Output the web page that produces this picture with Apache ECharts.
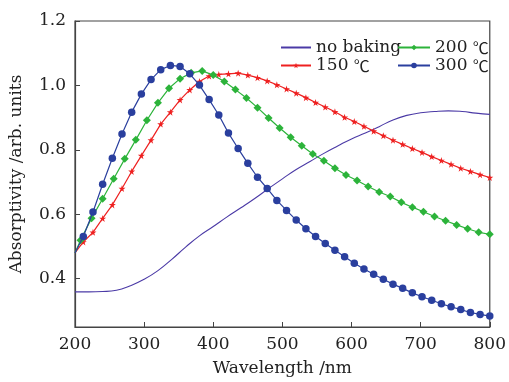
<!DOCTYPE html>
<html>
<head>
<meta charset="utf-8">
<script src="https://cdn.jsdelivr.net/npm/echarts@6/dist/echarts.min.js"></script>
<style>
  html, body { margin: 0; padding: 0; background: #fff; }
  #main { width: 509px; height: 382px; }
</style>
</head>
<body>
<div id="main"></div>
<script>
// wavelength grids (nm)
var baseX = [200, 220, 240, 260, 280, 300, 320, 340, 360, 380, 400, 420, 440, 460, 480, 500,
  520, 540, 560, 580, 600, 620, 640, 660, 680, 700, 720, 740, 760, 780, 800];
var markX14 = [];   // 212..800 step 14 (150 / 300 ℃)
for (var w = 212; w <= 800; w += 14) markX14.push(w);
var markX16 = [];   // 208..800 step 16 (200 ℃)
for (var w2 = 208; w2 <= 800; w2 += 16) markX16.push(w2);

var noBaking = [0.359, 0.359, 0.360, 0.364, 0.378, 0.398, 0.425, 0.460, 0.498, 0.533, 0.562,
  0.592, 0.620, 0.649, 0.680, 0.710, 0.739, 0.764, 0.789, 0.812, 0.834, 0.852, 0.872, 0.893,
  0.907, 0.915, 0.919, 0.921, 0.919, 0.914, 0.910];

var t150 = [0.514, 0.544, 0.587, 0.629, 0.680, 0.733, 0.782, 0.830, 0.880, 0.917, 0.955, 0.986,
  1.012, 1.029, 1.034, 1.036, 1.038, 1.032, 1.024, 1.014, 1.002, 0.989, 0.976, 0.962, 0.947,
  0.933, 0.918, 0.901, 0.888, 0.873, 0.858, 0.844, 0.830, 0.817, 0.804, 0.792, 0.779, 0.767,
  0.755, 0.743, 0.733, 0.723, 0.714];

var t200 = [0.519, 0.588, 0.648, 0.710, 0.772, 0.831, 0.892, 0.946, 0.991, 1.021, 1.039, 1.045,
  1.032, 1.012, 0.987, 0.961, 0.931, 0.899, 0.868, 0.839, 0.813, 0.787, 0.766, 0.743, 0.722,
  0.705, 0.686, 0.669, 0.655, 0.637, 0.622, 0.608, 0.593, 0.580, 0.567, 0.555, 0.544, 0.538];

var t300 = [0.531, 0.607, 0.693, 0.774, 0.849, 0.917, 0.973, 1.018, 1.049, 1.062, 1.059, 1.036,
  1.001, 0.956, 0.908, 0.852, 0.804, 0.758, 0.715, 0.680, 0.643, 0.612, 0.582, 0.555, 0.531,
  0.509, 0.488, 0.468, 0.448, 0.430, 0.414, 0.398, 0.383, 0.370, 0.356, 0.344, 0.333, 0.322,
  0.313, 0.304, 0.295, 0.289, 0.284];

var startY = 0.48; // common starting value at 200 nm
var yTicks = [0.4, 0.6, 0.8, 1.0, 1.2];

var FONT = 'DejaVu Serif';
var starPath = 'path://M50,0 L61,35 L98,35 L68,57 L79,91 L50,70 L21,91 L32,57 L2,35 L39,35 Z';

function pairs(xs, ys) {
  return xs.map(function (x, i) { return [x, ys[i]]; });
}
function withStart(xs, ys) {
  var d = [{ value: [200, startY], symbol: 'none' }];
  return d.concat(pairs(xs, ys));
}

// legend text: serif for numbers, CJK font for the ℃ sign
var legendText = {
  fontFamily: FONT, fontSize: 17, color: '#222',
  rich: {
    c: { fontFamily: 'Noto Sans CJK SC', fontSize: 16, color: '#222' }
  }
};
function legendFmt(name) {
  return name.replace(' ℃', ' {c|℃}');
}

var chart = echarts.init(document.getElementById('main'));
var option = {
  animation: false,
  grid: {
    left: 71, right: 16, top: 21, bottom: 48,
    show: true, borderColor: '#444', borderWidth: 1.2
  },
  legend: [
    {
      orient: 'vertical', left: 275, top: 34, itemWidth: 30, itemHeight: 7, itemGap: 1,
      textStyle: legendText, formatter: legendFmt,
      data: [{ name: 'no baking', itemStyle: { opacity: 0 } }, '150 ℃']
    },
    {
      orient: 'vertical', left: 392, top: 34, itemWidth: 32, itemHeight: 7, itemGap: 1,
      textStyle: legendText, formatter: legendFmt,
      data: ['200 ℃', '300 ℃']
    }
  ],
  xAxis: {
    type: 'value', min: 200, max: 800, interval: 100,
    name: 'Wavelength /nm', nameLocation: 'middle', nameGap: 33,
    nameTextStyle: { fontFamily: FONT, fontSize: 17, color: '#222' },
    axisLine: { lineStyle: { color: '#444', width: 1.2 } },
    axisTick: { inside: true, length: 5, lineStyle: { color: '#444' } },
    axisLabel: { fontFamily: FONT, fontSize: 17, color: '#222', margin: 9 },
    splitLine: { show: false }
  },
  yAxis: {
    type: 'value', min: 0.25, max: 1.2,
    name: 'Absorptivity /arb. units', nameLocation: 'middle', nameGap: 50,
    nameTextStyle: { fontFamily: FONT, fontSize: 17, color: '#222' },
    axisLine: { show: true, lineStyle: { color: '#444', width: 1.2 } },
    axisTick: { show: true, inside: true, length: 5, customValues: yTicks, lineStyle: { color: '#444' } },
    axisLabel: {
      fontFamily: FONT, fontSize: 17, color: '#222', margin: 9, customValues: yTicks,
      formatter: function (v) { return v.toFixed(1); }
    },
    splitLine: { show: false }
  },
  series: [
    {
      name: 'no baking', type: 'line', smooth: true, showSymbol: false, symbol: 'none',
      lineStyle: { color: '#4b3aa6', width: 1.1 }, itemStyle: { color: '#4b3aa6' },
      data: pairs(baseX, noBaking), z: 2
    },
    {
      name: '150 ℃', type: 'line', symbol: starPath, symbolSize: 7,
      lineStyle: { color: '#ee2020', width: 1.2 }, itemStyle: { color: '#ee2020' },
      data: withStart(markX14, t150), z: 3
    },
    {
      name: '200 ℃', type: 'line', symbol: 'diamond', symbolSize: 8,
      lineStyle: { color: '#2cb33a', width: 1.2 }, itemStyle: { color: '#2cb33a' },
      data: withStart(markX16, t200), z: 4
    },
    {
      name: '300 ℃', type: 'line', symbol: 'circle', symbolSize: 7.5,
      lineStyle: { color: '#2a3f9e', width: 1.2 }, itemStyle: { color: '#2a3f9e' },
      data: withStart(markX14, t300), z: 5
    }
  ]
};
chart.setOption(option);
</script>
</body>
</html>
